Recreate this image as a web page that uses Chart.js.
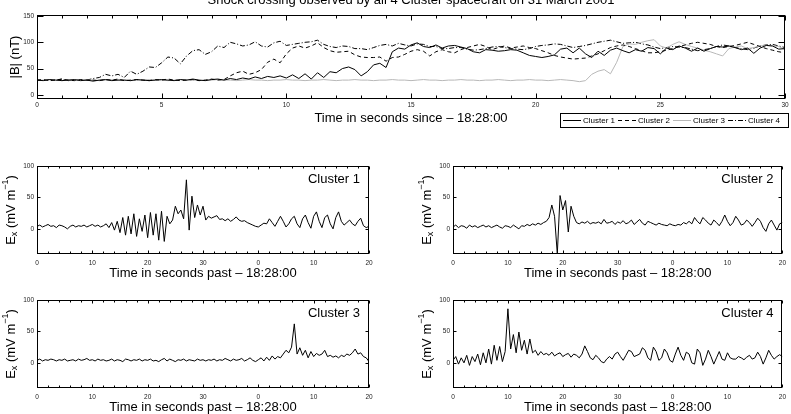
<!DOCTYPE html>
<html>
<head>
<meta charset="utf-8">
<script src="https://cdn.jsdelivr.net/npm/chart.js@4.4.1/dist/chart.umd.min.js"></script>
<style>
html, body { margin: 0; padding: 0; background: #fff; }
#wrap { position: relative; width: 791px; height: 414px; overflow: hidden; }
canvas { position: absolute; left: 0; top: 0; }
</style>
</head>
<body>
<div id="wrap">
  <canvas id="cB" width="791" height="414"></canvas>
  <canvas id="cE1" width="791" height="414"></canvas>
  <canvas id="cE2" width="791" height="414"></canvas>
  <canvas id="cE3" width="791" height="414"></canvas>
  <canvas id="cE4" width="791" height="414"></canvas>
</div>
<script>
// |B| samples every 0.25 s from 18:28:00
var stepB = 0.25;
var c1B = [28,27,29,28,27,28,29,27,28,26, 28,29,27,28,28,27,29,28,27,28,
           29,28,27,29,28,30,28,27,29,30, 28,31,29,32,30,34,31,35,33,36,
           32,38,31,40,30,42,33,44,42,50, 53,48,36,44,57,60,52,82,89,87,
           95,99,92,90,95,89,93,94,91,88, 82,80,86,85,83,84,86,85,80,75,
           73,71,73,76,87,89,80,89,78,71, 83,75,85,89,84,80,86,83,90,88,
           78,89,86,93,89,83,89,83,88,92, 91,93,90,86,89,79,89,94,93,87, 88];
var c2B = [28,29,27,28,30,28,27,29,28,28, 27,29,28,30,27,28,29,28,27,29,
           28,30,28,27,28,29,27,28,30,28, 29,36,42,45,39,42,48,62,68,61,
           78,89,93,89,93,99,90,84,81,82, 83,76,72,71,71,72,64,71,72,77,
           83,86,83,74,82,86,82,80,86,90, 93,96,92,86,90,93,89,91,93,90,
           88,84,80,75,72,70,68,69,70,74, 78,84,90,93,95,92,88,84,80,80,
           82,85,88,92,95,98,100,98,96,92, 90,92,94,97,100,96,92,88,85,82, 80];
var c3B = [28,28,29,28,27,28,28,29,28,28, 27,28,29,28,28,27,28,28,29,28,
           28,27,28,29,28,28,27,28,28,29, 28,28,27,28,29,28,28,27,28,28,
           29,28,28,27,28,28,29,28,27,28, 28,29,28,28,27,28,28,29,28,28,
           27,28,29,28,28,27,28,28,29,28, 28,27,28,28,29,28,27,28,28,29,
           28,28,27,28,29,28,27,25,27,39, 45,48,40,62,92,97,96,100,103,105,
           93,89,96,101,96,92,89,85,82,78, 74,88,91,93,88,90,93,94,93,92, 86];
var c4B = [28,27,29,28,30,27,28,29,28,31, 33,39,36,39,33,45,39,45,53,52,
           61,72,70,59,74,84,86,77,82,93, 90,100,97,93,95,101,93,91,99,102,
           94,96,98,100,101,104,96,92,90,93, 92,88,88,86,90,94,96,93,98,95,
           93,97,96,92,92,88,88,90,90,87, 85,86,88,91,92,90,88,87,86,88,
           92,94,95,97,96,93,90,92,94,97, 100,102,104,101,98,99,100,97,95,91,
           88,90,92,91,90,87,84,86,88,92, 95,93,90,88,86,89,93,95,96,93, 90];
var bXTicks = [0, 5, 10, 15, 20, 25, 30];
var bXLabels = ['0', '5', '10', '15', '20', '25', '30'];
var bYTicks = [0, 50, 100, 150];
var clusterNames = ['Cluster 1', 'Cluster 2', 'Cluster 3', 'Cluster 4'];

// Ex samples every 0.5 s
var stepE = 0.5;
var ex1 = [4,6,3,5,7,4,5,2,6,5, 3,0,4,6,3,5,4,6,3,5, 7,4,6,3,5,8,2,10,-2,12,
           -6,18,-10,20,-8,24,-12,16,-4,22, -14,26,-10,24,-18,28,-20,20,8,14,
           36,24,30,16,78,-2,52,18,38,22, 36,14,20,17,19,21,15,16,13,16,
           12,15,19,14,12,13,10,8,6,4, 3,6,9,8,16,10,4,12,20,12,
           3,8,16,20,8,2,16,22,10,1, 20,27,12,2,18,22,8,0,18,27,
           12,6,10,14,8,5,12,17,5,2, 4];
var ex2 = [3,6,2,5,4,1,6,3,5,2, 4,6,3,5,2,4,6,3,1,5, 4,2,6,3,0,5,4,7,5,8,
           6,9,7,10,12,18,38,20,-40,53, 30,45,-5,36,20,10,8,11,9,12,
           8,10,9,11,8,15,9,10,12,7, 11,9,13,8,10,14,7,11,15,9,
           6,12,10,8,6,9,7,6,5,8, 6,5,7,6,10,8,12,8,18,12,
           8,18,14,9,6,14,10,5,12,22, 12,5,10,20,14,6,8,14,10,4,
           10,17,12,2,-4,8,14,6,-2,8, 10];
var ex3 = [4,6,3,5,4,6,5,3,5,4, 6,3,4,5,3,6,4,5,7,4, 5,3,6,4,5,3,4,6,3,5,
           4,2,6,5,3,5,4,6,3,5, 4,6,3,4,2,5,7,3,6,4, 2,5,4,6,3,5,4,3,6,4,
           5,3,5,4,6,3,5,4,7,5, 3,6,4,5,7,3,5,8,4,2, 5,8,3,9,4,11,6,10,8,14,
           20,16,25,62,14,24,12,20,8,18, 10,15,12,14,20,10,12,9,11,8,
           12,10,14,12,16,22,14,16,10,8, 2];
var ex4 = [4,10,-2,8,0,12,-4,10,2,14, -3,16,0,22,-2,28,4,26,2,18,
           86,22,45,16,49,20,36,14,38,16, 20,12,18,13,15,12,17,11,14,16,
           10,13,15,9,14,12,8,14,27,18, 8,5,12,8,2,0,6,10,6,14,
           17,10,4,12,20,18,10,12,14,24, 20,8,4,25,18,4,8,22,16,4,
           1,14,25,12,4,17,14,0,-2,22, 16,-4,6,20,10,-2,8,18,6,4,
           16,8,6,6,10,8,5,9,12,6, 8,17,10,-2,8,20,12,6,10,13, 10];
var eXTicks = [0, 10, 20, 30, 40, 50, 60];
var eXLabels = ['0', '10', '20', '30', '0', '10', '20'];
var eYTicks = [0, 50, 100];

var FONT = '"Liberation Sans", Arial, Helvetica, sans-serif';

function pts(step, vals) {
  return vals.map(function(v, i) { return { x: i * step, y: v }; });
}

function drawRich(ctx, pieces, x, y) {
  ctx.save();
  ctx.translate(x, y);
  ctx.rotate(-Math.PI / 2);
  ctx.textAlign = 'left';
  ctx.textBaseline = 'middle';
  var w = 0;
  pieces.forEach(function(p) { ctx.font = p.s + 'px ' + FONT; w += ctx.measureText(p.t).width; });
  var cx = -w / 2;
  pieces.forEach(function(p) {
    ctx.font = p.s + 'px ' + FONT;
    ctx.fillText(p.t, cx, p.dy || 0);
    cx += ctx.measureText(p.t).width;
  });
  ctx.restore();
}

var framePlugin = {
  id: 'frame',
  afterDraw: function(chart, args, o) {
    var ctx = chart.ctx, a = chart.chartArea;
    var xs = chart.scales.x, ys = chart.scales.y;
    ctx.save();
    ctx.strokeStyle = '#000';
    ctx.lineWidth = 1;
    var l = Math.round(a.left) + 0.5, r = Math.round(a.right) - 0.5;
    var t = Math.round(a.top) + 0.5, b = Math.round(a.bottom) - 0.5;
    ctx.strokeRect(l, t, r - l, b - t);
    ctx.beginPath();
    for (var v = xs.min; v <= xs.max + 1e-9; v += o.xMinor) {
      var q = v / o.xMajor;
      var major = Math.abs(q - Math.round(q)) < 1e-6;
      var px = Math.round(xs.getPixelForValue(v)) + 0.5;
      var len = major ? o.majLen : o.minLen;
      ctx.moveTo(px, b); ctx.lineTo(px, b - len);
      ctx.moveTo(px, t); ctx.lineTo(px, t + len);
    }
    ys.ticks.forEach(function(tk) {
      var py = Math.round(ys.getPixelForValue(tk.value)) + 0.5;
      ctx.moveTo(l, py); ctx.lineTo(l + o.yLen, py);
      ctx.moveTo(r, py); ctx.lineTo(r - o.yLen, py);
    });
    ctx.stroke();

    ctx.fillStyle = '#000';
    ctx.font = '13px ' + FONT;
    ctx.textAlign = 'center';
    ctx.textBaseline = 'middle';
    ctx.fillText(o.xTitle, (a.left + a.right) / 2, a.bottom + 19);
    drawRich(ctx, o.yTitle, a.left - o.yGap, (a.top + a.bottom) / 2);

    if (o.label) {
      ctx.font = '13px ' + FONT;
      ctx.textAlign = 'right';
      ctx.textBaseline = 'alphabetic';
      ctx.fillText(o.label, a.right - 9, a.top + 17);
    }
    if (o.title) {
      ctx.font = '13px ' + FONT;
      ctx.textAlign = 'center';
      ctx.textBaseline = 'alphabetic';
      ctx.fillText(o.title, (a.left + a.right) / 2, 4);
    }
    if (o.legend) {
      var lg = o.legend;
      ctx.strokeStyle = '#000';
      ctx.strokeRect(lg.x + 0.5, lg.y + 0.5, lg.w, lg.h);
      var cx = lg.x + 3, cy = lg.y + lg.h / 2 + 0.5;
      ctx.font = '8px ' + FONT;
      ctx.textAlign = 'left';
      ctx.textBaseline = 'middle';
      chart.data.datasets.forEach(function(ds) {
        ctx.save();
        ctx.strokeStyle = ds.borderColor;
        ctx.setLineDash(ds.borderDash || []);
        ctx.beginPath();
        ctx.moveTo(cx, cy); ctx.lineTo(cx + 18, cy);
        ctx.stroke();
        ctx.restore();
        cx += 20;
        ctx.fillText(ds.label, cx, cy);
        cx += ctx.measureText(ds.label).width + 3;
      });
    }
    ctx.restore();
  }
};

function panel(id, pad, xOpt, yOpt, sets, frame) {
  return new Chart(document.getElementById(id), {
    type: 'line',
    data: { datasets: sets },
    options: {
      responsive: false,
      animation: false,
      events: [],
      layout: { padding: pad },
      elements: { point: { radius: 0 }, line: { borderWidth: 1, tension: 0 } },
      plugins: { legend: { display: false }, tooltip: { enabled: false }, frame: frame },
      scales: {
        x: {
          type: 'linear', min: xOpt.min, max: xOpt.max,
          grid: { display: false, drawTicks: false }, border: { display: false },
          afterBuildTicks: function(s) { s.ticks = xOpt.ticks.map(function(v) { return { value: v }; }); },
          afterFit: function(s) { s.height = 20; },
          ticks: {
            autoSkip: false, maxRotation: 0, padding: xOpt.pad, color: '#222',
            font: { size: 6.5, family: FONT },
            callback: function(v, i) { return xOpt.labels[i]; }
          }
        },
        y: {
          type: 'linear', min: yOpt.min, max: yOpt.max,
          grid: { display: false, drawTicks: false }, border: { display: false },
          afterBuildTicks: function(s) { s.ticks = yOpt.ticks.map(function(v) { return { value: v }; }); },
          afterFit: function(s) { s.width = 30; },
          ticks: { padding: 3, color: '#222', font: { size: 6.5, family: FONT } }
        }
      }
    },
    plugins: [framePlugin]
  });
}

var exTitle = [
  { t: 'E', s: 13 }, { t: 'x', s: 9, dy: 4 }, { t: ' (mV m', s: 13 },
  { t: '\u22121', s: 9, dy: -5 }, { t: ')', s: 13 }
];

panel('cB', { left: 7, top: 15, right: 6, bottom: 295 },
  { min: 0, max: 30, ticks: bXTicks, labels: bXLabels, pad: 2 },
  { min: -8, max: 152, ticks: bYTicks },
  [
    { label: clusterNames[0], data: pts(stepB, c1B), borderColor: '#000' },
    { label: clusterNames[1], data: pts(stepB, c2B), borderColor: '#000', borderDash: [4, 3] },
    { label: clusterNames[2], data: pts(stepB, c3B), borderColor: '#b8b8b8' },
    { label: clusterNames[3], data: pts(stepB, c4B), borderColor: '#000', borderDash: [5, 2, 1, 2] }
  ],
  {
    xMinor: 1, xMajor: 5, majLen: 5, minLen: 3, yLen: 6,
    xTitle: 'Time in seconds since \u2013 18:28:00',
    yTitle: [{ t: '|B| (nT)', s: 13 }], yGap: 22,
    title: 'Shock crossing observed by all 4 Cluster spacecraft on 31 March 2001',
    legend: { x: 560, y: 113, w: 228, h: 14 }
  });

var exPanels = [
  { id: 'cE1', data: ex1, pad: { left: 7, top: 166, right: 422, bottom: 140 } },
  { id: 'cE2', data: ex2, pad: { left: 423, top: 166, right: 6, bottom: 140 } },
  { id: 'cE3', data: ex3, pad: { left: 7, top: 300, right: 422, bottom: 6 } },
  { id: 'cE4', data: ex4, pad: { left: 423, top: 300, right: 6, bottom: 6 } }
];
exPanels.forEach(function(p, k) {
  panel(p.id, p.pad,
    { min: 0, max: 60, ticks: eXTicks, labels: eXLabels, pad: 5 },
    { min: -40, max: 100, ticks: eYTicks },
    [{ label: clusterNames[k], data: pts(stepE, p.data), borderColor: '#000' }],
    {
      xMinor: 2, xMajor: 10, majLen: 3, minLen: 2, yLen: 3,
      xTitle: 'Time in seconds past \u2013 18:28:00',
      yTitle: exTitle, yGap: 26,
      label: clusterNames[k]
    });
});
</script>
</body>
</html>
